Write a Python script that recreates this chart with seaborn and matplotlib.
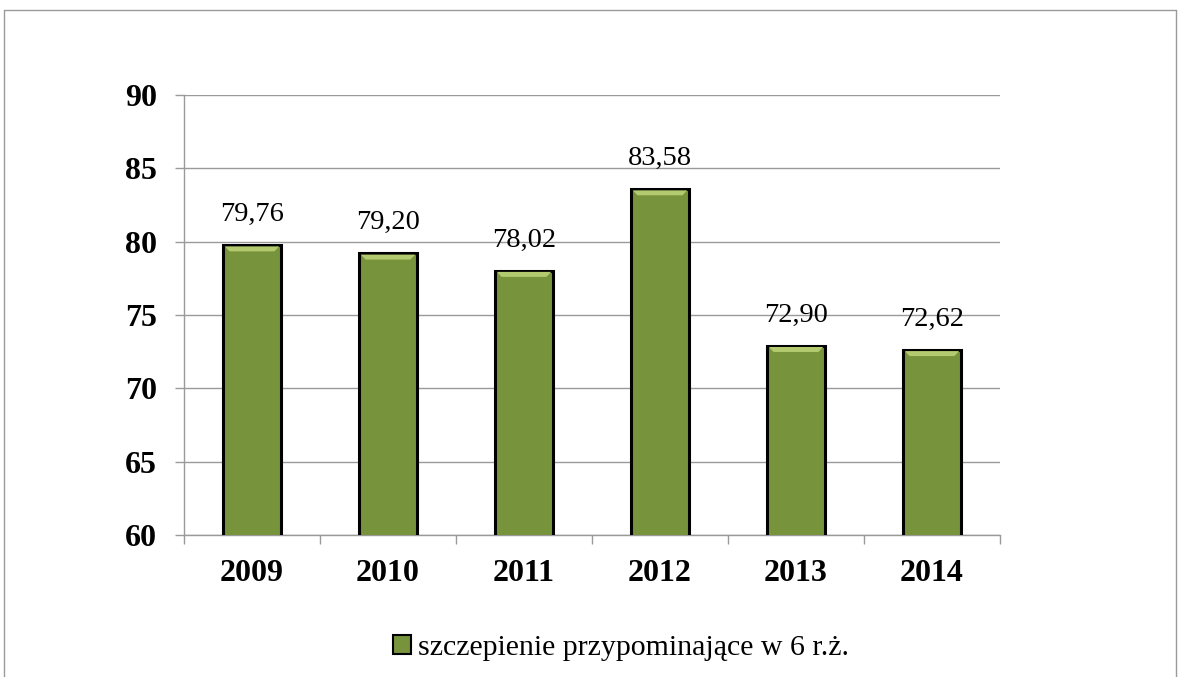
import pandas as pd
import seaborn as sns
import matplotlib.pyplot as plt
from matplotlib.lines import Line2D
from matplotlib.patches import Patch

# dane
lata = ['2009', '2010', '2011', '2012', '2013', '2014']
wartosci = [79.76, 79.20, 78.02, 83.58, 72.90, 72.62]
etykiety = ['79,76', '79,20', '78,02', '83,58', '72,90', '72,62']
seria = 'szczepienie przypominające w 6 r.ż.'

df = pd.DataFrame({'rok': lata, 'wartosc': wartosci})

sns.set_style('white')
plt.rcParams['font.family'] = ['Liberation Serif', 'DejaVu Serif']
plt.rcParams['text.color'] = 'black'
plt.rcParams['xtick.color'] = 'black'
plt.rcParams['ytick.color'] = 'black'

fig = plt.figure(figsize=(11.78, 6.77), dpi=100)
ax = fig.add_axes([184 / 1178, 1 - 535 / 677, 816 / 1178, 440 / 677])

zielony = '#77933C'
sns.barplot(data=df, x='rok', y='wartosc', color=zielony, width=0.42,
            edgecolor='black', linewidth=2.2, saturation=1, ax=ax, zorder=3)

# jasna faza u gory slupka
for p in ax.patches:
    x0 = p.get_x()
    w = p.get_width()
    h = p.get_height()
    d = 0.045
    dy = 0.42
    ax.fill([x0 + 0.01, x0 + w - 0.01, x0 + w - d, x0 + d],
            [h - 0.08, h - 0.08, h - dy, h - dy],
            color='#B3CB6E', zorder=4, linewidth=0)

ax.set_ylim(60, 90)
ax.set_xlim(-0.5, len(lata) - 0.5)
ax.set_yticks(range(60, 91, 5))
ax.yaxis.grid(True, color='#9a9a9a', linewidth=1)
ax.set_axisbelow(True)
ax.set_xlabel('')
ax.set_ylabel('')

for s in ['top', 'right']:
    ax.spines[s].set_visible(False)
for s in ['left', 'bottom']:
    ax.spines[s].set_color('#9a9a9a')
    ax.spines[s].set_linewidth(1)

ax.tick_params(axis='y', left=True, length=6.5, color='#9a9a9a', width=1,
               pad=13, labelsize=23, labelcolor='black')
ax.tick_params(axis='x', which='major', bottom=True, length=0, pad=17,
               labelsize=23, labelcolor='black')
ax.set_xticks([i - 0.5 for i in range(len(lata) + 1)], minor=True)
ax.tick_params(axis='x', which='minor', bottom=True, length=6.5,
               color='#9a9a9a', width=1)
for lab in ax.get_xticklabels() + ax.get_yticklabels():
    lab.set_fontweight('bold')

for i, (v, t) in enumerate(zip(wartosci, etykiety)):
    ax.text(i, v + 2.1, t, ha='center', va='center', fontsize=20.5,
            color='black', zorder=5)

# legenda
uchwyt = Patch(facecolor=zielony, edgecolor='black', linewidth=1.5)
leg = fig.legend([uchwyt], [seria], loc='center',
                 bbox_to_anchor=(0.527, 1 - 648 / 677), frameon=False,
                 fontsize=21.5, handlelength=0.6, handleheight=0.6,
                 handletextpad=0.25)
for t in leg.get_texts():
    t.set_color('black')

# ramka wykresu
szary = '#9a9a9a'
fig.add_artist(Line2D([4 / 1178, 1176 / 1178], [1 - 10 / 677, 1 - 10 / 677],
                      color=szary, linewidth=1))
fig.add_artist(Line2D([4 / 1178, 4 / 1178], [0, 1 - 10 / 677],
                      color=szary, linewidth=1))
fig.add_artist(Line2D([1176 / 1178, 1176 / 1178], [0, 1 - 10 / 677],
                      color=szary, linewidth=1))

fig.savefig('out.png', dpi=100, facecolor='white')
